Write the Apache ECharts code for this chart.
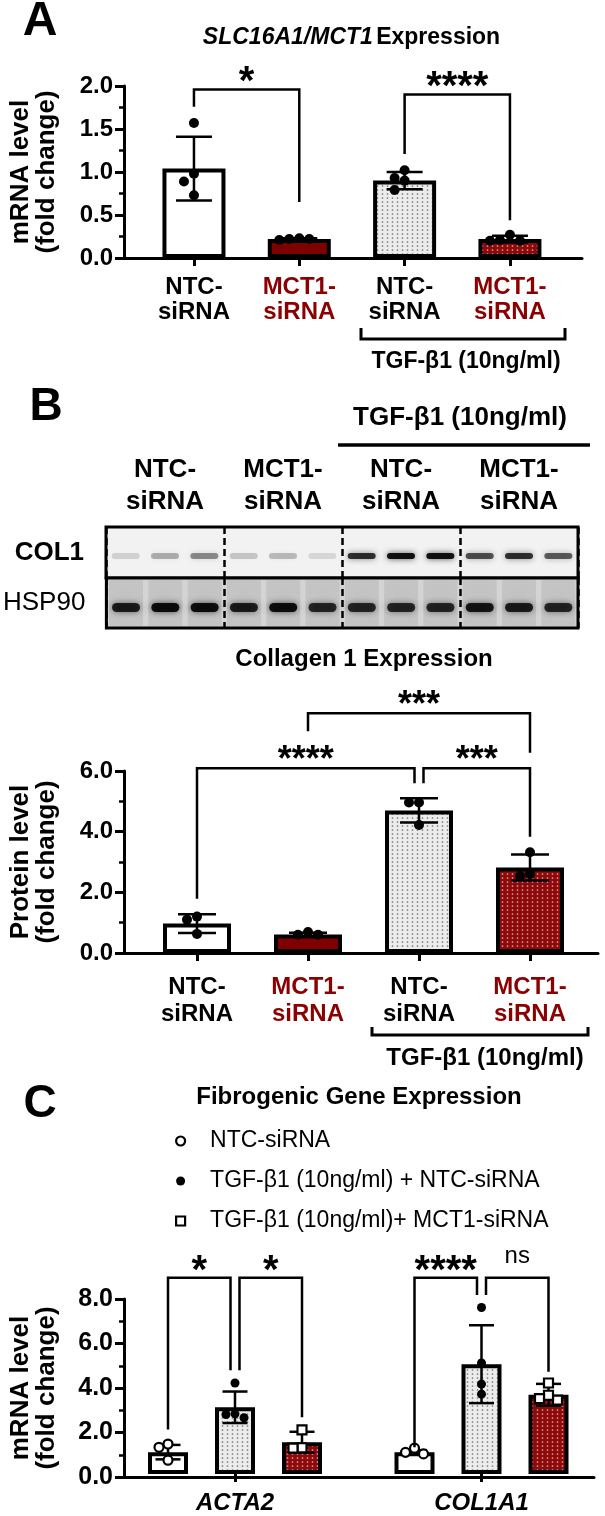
<!DOCTYPE html>
<html>
<head>
<meta charset="utf-8">
<script src="https://cdn.jsdelivr.net/npm/echarts@6/dist/echarts.min.js"></script>
<style>
  html, body { margin: 0; padding: 0; background: #fff; }
  #chart { width: 605px; height: 1516px; }
</style>
</head>
<body>
<div id="chart"></div>
<script>
// ---------- data ----------
// Panel A: SLC16A1/MCT1 mRNA
var labelsA = ['NTC-\nsiRNA', 'MCT1-\nsiRNA', 'NTC-\nsiRNA', 'MCT1-\nsiRNA'];
var meanA = [1.04, 0.22, 0.90, 0.22];
var sdA = [0.37, 0.01, 0.10, 0.04];
var dotsA = [[1.57, 0.98, 0.89, 0.73], [0.21, 0.23, 0.22, 0.22], [1.02, 0.93, 0.90, 0.79], [0.27, 0.20, 0.20, 0.21]];
var ticksA = [0, 0.5, 1.0, 1.5, 2.0];
var sigA = [
  { a: 0, b: 1, top: 1.96, la: 1.76, lb: 0.65, text: '*' },
  { a: 2, b: 3, top: 1.90, la: 1.21, lb: 0.44, text: '****' }
];

// Panel B: western blot band strength (0..1) per lane
var blotGroups = ['NTC-\nsiRNA', 'MCT1-\nsiRNA', 'NTC-\nsiRNA', 'MCT1-\nsiRNA'];
var col1Bands = [0.15, 0.3, 0.45, 0.2, 0.25, 0.12, 0.85, 1.0, 1.0, 0.7, 0.85, 0.65];
var hsp90Bands = [0.9, 1.0, 1.0, 0.9, 1.0, 0.85, 0.85, 0.85, 0.85, 0.95, 0.9, 0.85];

// Panel B: Collagen 1 protein
var labelsB = ['NTC-\nsiRNA', 'MCT1-\nsiRNA', 'NTC-\nsiRNA', 'MCT1-\nsiRNA'];
var meanB = [0.97, 0.61, 4.70, 2.82];
var sdB = [0.31, 0.06, 0.40, 0.43];
var dotsB = [[1.20, 1.10, 0.63], [0.60, 0.69, 0.60], [4.96, 4.96, 4.22], [3.32, 2.54, 2.60]];
var ticksB = [0, 2, 4, 6];
var sigB = [
  { a: 0, b: 2, top: 6.09, la: 1.79, lb: 5.60, text: '****', nb: -4.5 },
  { a: 2, b: 3, top: 6.09, la: 5.60, lb: 3.83, text: '***', na: 4.5 },
  { a: 1, b: 3, top: 7.90, la: 7.31, lb: 6.60, text: '***' }
];

// Panel C: fibrogenic genes
var genesC = ['ACTA2', 'COL1A1'];
var seriesC = ['NTC-siRNA', 'TGF-β1 (10ng/ml) + NTC-siRNA', 'TGF-β1 (10ng/ml)+ MCT1-siRNA'];
var meanC = [[1.00, 0.99], [3.05, 5.02], [1.45, 3.62]];
var sdC = [[0.33, 0.10], [0.72, 1.78], [0.48, 0.50]];
var dotsC = [
  [[1.37, 1.22, 0.63], [0.92, 1.18, 0.99]],
  [[4.16, 2.57, 2.75, 2.72], [7.61, 5.08, 4.11, 3.65]],
  [[2.02, 1.20, 1.18], [4.16, 3.38, 3.60, 3.45]]
];
var ticksC = [0, 2, 4, 6, 8];
var sigC = [
  { a: [0, 0], b: [0, 1], top: 8.97, la: 2.03, lb: 4.74, text: '*', nb: -4.5 },
  { a: [0, 1], b: [0, 2], top: 8.97, la: 4.74, lb: 2.60, text: '*', na: 4.5 },
  { a: [1, 0], b: [1, 1], top: 8.97, la: 1.22, lb: 8.18, text: '****', nb: -4.5 },
  { a: [1, 1], b: [1, 2], top: 8.97, la: 8.18, lb: 4.68, text: 'ns', na: 4.5 }
];

// ---------- styling ----------
var FONT = '"Liberation Sans", Arial, Helvetica, sans-serif';
var RED = '#800000';
var LABEL_RED = '#8b0000';
var BORDER = 4;

function dotPattern(bg, dot, w, h, r) {
  var c = document.createElement('canvas');
  c.width = w; c.height = h;
  var g = c.getContext('2d');
  g.fillStyle = bg; g.fillRect(0, 0, w, h);
  g.fillStyle = dot;
  g.beginPath(); g.arc(w / 2, h / 2, r, 0, Math.PI * 2); g.fill();
  return { image: c, repeat: 'repeat' };
}
var grayFill = dotPattern('#ececec', '#707070', 5, 4, 0.85);
var redFill = dotPattern('#8c0a0a', '#e7a9a9', 5, 4, 0.85);
var fills4 = ['#ffffff', RED, grayFill, redFill];
var labelColors4 = ['#000', LABEL_RED, '#000', LABEL_RED];

// spread dots that would overlap (GraphPad-like scatter)
function swarm(vals, pxPerUnit, pxPerCat, dot) {
  var order = vals.map(function (v, i) { return i; }).sort(function (p, q) { return vals[q] - vals[p]; });
  var placed = [], off = [];
  order.forEach(function (i) {
    var y = vals[i] * pxPerUnit;
    var cands = [0, -1, 1, -2, 2];
    for (var k = 0; k < cands.length; k++) {
      var x = cands[k] * dot;
      var ok = placed.every(function (p) { return Math.hypot(p.x - x, p.y - y) >= dot; });
      if (ok) { placed.push({ x: x, y: y }); off[i] = x / pxPerCat; return; }
    }
    off[i] = 0;
  });
  return off;
}

function frameY(grid, ticks, fs, name) {
  return {
    gridIndex: grid, type: 'value',
    min: ticks[0], max: ticks[ticks.length - 1], interval: ticks[1] - ticks[0],
    axisLine: { show: true, lineStyle: { color: '#000', width: 3 } },
    axisTick: { show: true, length: 9, lineStyle: { color: '#000', width: 3 } },
    minorTick: { show: true, splitNumber: 2, length: 5, lineStyle: { color: '#000', width: 2.5 } },
    splitLine: { show: false }, minorSplitLine: { show: false },
    axisLabel: { color: '#000', fontWeight: 'bold', fontSize: fs, margin: 11, fontFamily: FONT,
      formatter: function (v) { return v.toFixed(1); } },
    name: name, nameLocation: 'middle', nameGap: 64,
    nameTextStyle: { color: '#000', fontWeight: 'bold', fontSize: 26, lineHeight: 26, fontFamily: FONT }
  };
}
function frameX(grid) {
  return {
    gridIndex: grid, type: 'value', min: 0, max: 1,
    axisLine: { show: true, onZero: false, lineStyle: { color: '#000', width: 3 } },
    axisTick: { show: false }, axisLabel: { show: false }, splitLine: { show: false }
  };
}
function hiddenY(grid, min, max) {
  return { gridIndex: grid, type: 'value', min: min, max: max, show: false };
}
function hiddenX(grid, min, max) {
  return { gridIndex: grid, type: 'value', min: min, max: max, show: false };
}
function catX(grid, labels, colors, fs, margin, lh, italic) {
  return {
    gridIndex: grid, type: 'category',
    data: labels.map(function (l, i) { return { value: 'c' + i, textStyle: { color: colors[i] } }; }),
    axisLine: { show: false },
    axisTick: { show: true, alignWithLabel: true, length: 8, lineStyle: { color: '#000', width: 3 } },
    axisLabel: { interval: 0, margin: margin, fontSize: fs, fontWeight: 'bold', lineHeight: lh,
      fontStyle: italic ? 'italic' : 'normal', fontFamily: FONT,
      formatter: function (v, i) { return labels[i]; } },
    splitLine: { show: false }
  };
}

function errRenderer(half) {
  return function (params, api) {
    var x = api.value(0), m = api.value(1), s = api.value(2);
    var hi = api.coord([x, m + s]);
    var lo = api.coord([x, Math.max(m - s, 0)]);
    var st = { stroke: '#000', lineWidth: 2.5 };
    return { type: 'group', children: [
      { type: 'line', shape: { x1: hi[0], y1: hi[1], x2: lo[0], y2: lo[1] }, style: st },
      { type: 'line', shape: { x1: hi[0] - half, y1: hi[1], x2: hi[0] + half, y2: hi[1] }, style: st },
      { type: 'line', shape: { x1: lo[0] - half, y1: lo[1], x2: lo[0] + half, y2: lo[1] }, style: st }
    ] };
  };
}

function bracketRenderer(specs, starSize) {
  return function (params, api) {
    var s = specs[params.dataIndex];
    var pa = api.coord([api.value(0), api.value(2)]);
    var pb = api.coord([api.value(1), api.value(2)]);
    var xa = pa[0] + (s.na || 0), xb = pb[0] + (s.nb || 0);
    var ya = api.coord([api.value(0), api.value(3)])[1];
    var yb = api.coord([api.value(1), api.value(4)])[1];
    var yt = pa[1];
    var ns = s.text === 'ns';
    var fs = ns ? 24 : starSize;
    return { type: 'group', children: [
      { type: 'polyline', shape: { points: [[xa, ya], [xa, yt], [xb, yt], [xb, yb]] },
        style: { stroke: '#000', lineWidth: 2.5, fill: 'none' } },
      { type: 'text', style: { text: s.text, x: (xa + xb) / 2,
        y: ns ? yt - 21 : yt - 17.5 + 0.28 * fs, align: 'center', verticalAlign: 'middle',
        font: (ns ? '' : 'bold ') + fs + 'px ' + FONT, fill: '#000' } }
    ] };
  };
}

function bandRenderer(rowY, h, withLaneShade) {
  return function (params, api) {
    var c = api.coord([api.value(0), rowY]);
    var k = api.value(1);
    var cs = params.coordSys;
    var kids = [];
    if (withLaneShade) {
      kids.push({ type: 'rect', shape: { x: c[0] - 17, y: cs.y + 2, width: 34, height: cs.height - 4 },
        style: { fill: 'rgba(0,0,0,0.07)', shadowBlur: 8, shadowColor: 'rgba(0,0,0,0.1)' } });
    }
    kids.push({ type: 'rect', shape: { x: c[0] - 14, y: c[1] - h / 2, width: 28, height: h, r: h / 2 },
      style: { fill: 'rgba(0,0,0,' + (0.9 * k) + ')', shadowBlur: 6, shadowColor: 'rgba(0,0,0,' + (0.7 * k) + ')' } });
    return { type: 'group', children: kids };
  };
}

// ---------- build series ----------
var series = [];

function simplePanel(opts) {
  // bars on category axis, dots / error bars / brackets on hidden value axis
  series.push({
    type: 'bar', name: opts.id + ' bars', xAxisIndex: opts.cat, yAxisIndex: opts.y, barWidth: opts.barW, z: 2,
    data: opts.mean.map(function (m, i) {
      return { value: m, itemStyle: { color: fills4[i], borderColor: '#000', borderWidth: BORDER } };
    })
  });
  series.push({
    type: 'custom', name: opts.id + ' sd', xAxisIndex: opts.val, yAxisIndex: opts.y, z: 3,
    renderItem: errRenderer(opts.cap),
    data: opts.mean.map(function (m, i) { return [i, m, opts.sd[i]]; })
  });
  var pts = [];
  opts.dots.forEach(function (vals, i) {
    var off = swarm(vals, opts.pxY, opts.pxCat, opts.dot);
    vals.forEach(function (v, j) { pts.push([i + off[j], v]); });
  });
  series.push({
    type: 'scatter', name: opts.id + ' dots', xAxisIndex: opts.val, yAxisIndex: opts.y, z: 4,
    symbol: 'circle', symbolSize: opts.dot, itemStyle: { color: '#000', opacity: 1 }, data: pts
  });
  series.push({
    type: 'custom', name: opts.id + ' sig', xAxisIndex: opts.val, yAxisIndex: opts.y, z: 5,
    renderItem: bracketRenderer(opts.sig, opts.star),
    data: opts.sig.map(function (s) { return [s.a, s.b, s.top, s.la, s.lb]; })
  });
}

simplePanel({ id: 'A', cat: 1, val: 2, y: 1, barW: 63, cap: 18, mean: meanA, sd: sdA, dots: dotsA,
  pxY: 172 / 2, pxCat: 421.3 / 4, dot: 10, sig: sigA, star: 40 });
simplePanel({ id: 'B', cat: 8, val: 9, y: 7, barW: 68, cap: 19, mean: meanB, sd: sdB, dots: dotsB,
  pxY: 182 / 6, pxCat: 444 / 4, dot: 10, sig: sigB, star: 36 });

// blot bands
series.push({
  type: 'custom', name: 'COL1 blot', xAxisIndex: 4, yAxisIndex: 3, z: 3,
  renderItem: bandRenderer(0.43, 6, false),
  data: col1Bands.map(function (k, i) { return [i, k]; })
});
series.push({
  type: 'custom', name: 'HSP90 blot', xAxisIndex: 6, yAxisIndex: 5, z: 3,
  renderItem: bandRenderer(0.41, 9, true),
  data: hsp90Bands.map(function (k, i) { return [i, k]; })
});

// panel C
var C_CAT = 493 / 2, C_BAR = 40, C_GAP = 0.675;
var sepC = C_BAR * (1 + C_GAP) / C_CAT;
var fillsC = ['#ffffff', grayFill, redFill];
var markC = [
  { symbol: 'circle', itemStyle: { color: '#fff', borderColor: '#000', borderWidth: 2.2, opacity: 1 } },
  { symbol: 'circle', itemStyle: { color: '#000', opacity: 1 } },
  { symbol: 'rect', itemStyle: { color: '#fff', borderColor: '#000', borderWidth: 2.2, opacity: 1 } }
];
seriesC.forEach(function (name, s) {
  series.push({
    type: 'bar', name: 'C bars ' + s, xAxisIndex: 11, yAxisIndex: 9, barWidth: C_BAR,
    barGap: (C_GAP * 100) + '%', z: 2,
    itemStyle: { color: fillsC[s], borderColor: '#000', borderWidth: BORDER },
    data: meanC[s]
  });
  series.push({
    type: 'custom', name: 'C sd ' + s, xAxisIndex: 12, yAxisIndex: 9, z: 3,
    renderItem: errRenderer(12.5),
    data: meanC[s].map(function (m, g) { return [g + (s - 1) * sepC, m, sdC[s][g]]; })
  });
  var pts = [];
  dotsC[s].forEach(function (vals, g) {
    var off = swarm(vals, 178 / 8, C_CAT, 9);
    vals.forEach(function (v, j) { pts.push([g + (s - 1) * sepC + off[j], v]); });
  });
  series.push({
    type: 'scatter', name: name, xAxisIndex: 12, yAxisIndex: 9, z: 4,
    symbol: markC[s].symbol, symbolSize: 9, itemStyle: markC[s].itemStyle, data: pts
  });
});
series.push({
  type: 'custom', name: 'C sig', xAxisIndex: 12, yAxisIndex: 9, z: 5,
  renderItem: bracketRenderer(sigC, 40),
  data: sigC.map(function (s) {
    return [s.a[0] + (s.a[1] - 1) * sepC, s.b[0] + (s.b[1] - 1) * sepC, s.top, s.la, s.lb];
  })
});

// ---------- annotation text ----------
function txt(text, x, y, font) {
  return { type: 'text', x: x, y: y, z: 10,
    style: { text: text, font: font + ' ' + FONT, fill: '#000', align: 'center', verticalAlign: 'middle' } };
}
function under(x1, x2, y, h) {
  return { type: 'polyline', z: 10,
    shape: { points: [[x1, y - h], [x1, y], [x2, y], [x2, y - h]] },
    style: { stroke: '#000', lineWidth: 3, fill: 'none' } };
}
var graphics = [
  txt('A', 40, 22, 'bold 48px'),
  { type: 'text', x: 351.5, y: 38, z: 10, style: {
    text: '{i|SLC16A1/MCT1} {b|Expression}', align: 'center', verticalAlign: 'middle', fill: '#000',
    rich: { i: { fontStyle: 'italic', fontWeight: 'bold', fontSize: 23, fontFamily: FONT },
            b: { fontWeight: 'bold', fontSize: 23, fontFamily: FONT } } } },
  under(361, 565, 339, 11),
  txt('TGF-β1 (10ng/ml)', 466, 362, 'bold 23px'),
  txt('B', 46, 407, 'bold 46px'),
  txt('TGF-β1 (10ng/ml)', 460, 418, 'bold 26px'),
  { type: 'line', z: 10, shape: { x1: 338, y1: 445, x2: 590, y2: 445 }, style: { stroke: '#000', lineWidth: 3.5 } },
  txt('Collagen 1 Expression', 364, 659, 'bold 24px'),
  under(372, 588, 1035, 8),
  txt('TGF-β1 (10ng/ml)', 485, 1058, 'bold 24px'),
  txt('C', 40, 1104, 'bold 46px'),
  txt('Fibrogenic Gene Expression', 359, 1097, 'bold 24px')
];

var option = {
  animation: false,
  backgroundColor: '#fff',
  textStyle: { fontFamily: FONT },
  grid: [
    { left: 123, top: 86, width: 459, height: 172 },          // 0 A frame
    { left: 141.3, top: 86, width: 421.3, height: 172 },      // 1 A bars
    { left: 106, top: 527, width: 472, height: 51, show: true, backgroundColor: '#f2f2f2',
      borderColor: '#000', borderWidth: 3 },                   // 2 COL1 blot
    { left: 106, top: 578, width: 472, height: 50, show: true, backgroundColor: '#d4d4d4',
      borderColor: '#000', borderWidth: 3 },                   // 3 HSP90 blot
    { left: 122, top: 771, width: 476, height: 182 },          // 4 B frame
    { left: 141.5, top: 771, width: 444, height: 182 },        // 5 B bars
    { left: 123, top: 1299, width: 471, height: 178 },         // 6 C frame
    { left: 111.75, top: 1299, width: 493, height: 178 }       // 7 C bars
  ],
  xAxis: [
    frameX(0),                                                          // 0
    catX(1, labelsA, labelColors4, 24, 17, 25, false),                  // 1
    hiddenX(1, -0.5, 3.5),                                              // 2
    { gridIndex: 2, type: 'category', position: 'top',                  // 3
      data: blotGroups.map(function (g, i) { return 'g' + i; }),
      axisLine: { show: false }, axisTick: { show: false },
      axisLabel: { interval: 0, margin: 9, fontSize: 26, fontWeight: 'bold', lineHeight: 32, color: '#000',
        fontFamily: FONT, formatter: function (v, i) { return blotGroups[i]; } },
      splitLine: { show: true, interval: 0, lineStyle: { color: '#000', width: 2.5, type: [7, 4] } } },
    hiddenX(2, -0.5, 11.5),                                             // 4
    { gridIndex: 3, type: 'category', data: blotGroups.map(function (g, i) { return 'h' + i; }),   // 5
      axisLine: { show: false }, axisTick: { show: false }, axisLabel: { show: false },
      splitLine: { show: true, interval: 0, lineStyle: { color: '#000', width: 2.5, type: [7, 4] } } },
    hiddenX(3, -0.5, 11.5),                                             // 6
    frameX(4),                                                          // 7
    catX(5, labelsB, labelColors4, 24, 21, 27, false),                  // 8
    hiddenX(5, -0.5, 3.5),                                              // 9
    frameX(6),                                                          // 10
    catX(7, genesC, ['#000', '#000'], 24, 16, 26, true),                // 11
    hiddenX(7, -0.5, 1.5)                                               // 12
  ],
  yAxis: [
    frameY(0, ticksA, 24, 'mRNA level\n(fold change)'),                 // 0
    hiddenY(1, ticksA[0], ticksA[ticksA.length - 1]),                   // 1
    { gridIndex: 2, type: 'category', data: ['COL1'], axisLine: { show: false }, axisTick: { show: false },
      axisLabel: { margin: 22, fontSize: 26, fontWeight: 'bold', color: '#000', fontFamily: FONT } },  // 2
    hiddenY(2, 0, 1),                                                   // 3
    { gridIndex: 3, type: 'category', data: ['HSP90'], axisLine: { show: false }, axisTick: { show: false },
      axisLabel: { margin: 21, fontSize: 26, color: '#000', fontFamily: FONT } },                      // 4
    hiddenY(3, 0, 1),                                                   // 5
    frameY(4, ticksB, 24, 'Protein level\n(fold change)'),              // 6
    hiddenY(5, ticksB[0], ticksB[ticksB.length - 1]),                   // 7
    frameY(6, ticksC, 25, 'mRNA level\n(fold change)'),                 // 8
    hiddenY(7, ticksC[0], ticksC[ticksC.length - 1])                    // 9
  ],
  legend: {
    orient: 'vertical', left: 170, top: 1124, itemGap: 16, itemWidth: 9, itemHeight: 9,
    selectedMode: false,
    textStyle: { fontSize: 23, color: '#000', lineHeight: 24, padding: [0, 0, 0, 20], fontFamily: FONT },
    data: [
      { name: seriesC[0], icon: 'circle', itemStyle: { color: '#fff', borderColor: '#000', borderWidth: 2.2, opacity: 1 } },
      { name: seriesC[1], icon: 'circle', itemStyle: { color: '#000', borderWidth: 0, opacity: 1 } },
      { name: seriesC[2], icon: 'rect', itemStyle: { color: '#fff', borderColor: '#000', borderWidth: 2.2, opacity: 1 } }
    ]
  },
  graphic: graphics,
  series: series
};

var chart = echarts.init(document.getElementById('chart'));
chart.setOption(option);
</script>
</body>
</html>
